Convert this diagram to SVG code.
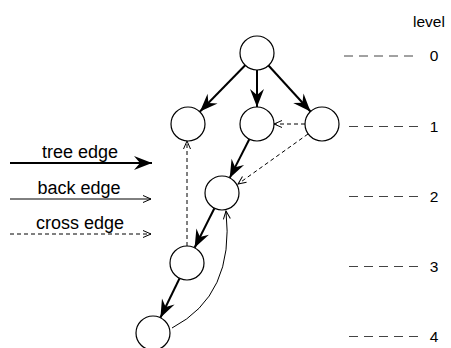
<svg xmlns="http://www.w3.org/2000/svg" width="451" height="348" viewBox="0 0 451 348">
  <defs>
    <!-- filled, notched head for tree edges -->
    <marker id="treeHead" markerUnits="userSpaceOnUse" viewBox="-20 -10 22 20" refX="0" refY="0" markerWidth="22" markerHeight="20" orient="auto" overflow="visible">
      <path d="M0,0 L-18,-7 L-12,0 L-18,7 Z" fill="#000"/>
    </marker>
    <!-- open V head for back and cross edges -->
    <marker id="openHead" markerUnits="userSpaceOnUse" viewBox="-10 -5 12 10" refX="0" refY="0" markerWidth="12" markerHeight="10" orient="auto" overflow="visible">
      <path d="M-8,-3.5 L0,0 L-8,3.5" fill="none" stroke="#000" stroke-width="1"/>
    </marker>
  </defs>
  <style>
    .node { fill: #fff; stroke: #000; stroke-width: 1.2; }
    .tree { fill: none; stroke: #000; stroke-width: 2; marker-end: url(#treeHead); }
    .back { fill: none; stroke: #000; stroke-width: 1; marker-end: url(#openHead); }
    .cross { fill: none; stroke: #000; stroke-width: 1; stroke-dasharray: 4 3; marker-end: url(#openHead); }
    .lvl { stroke: #444; stroke-width: 1; stroke-dasharray: 9 6; }
    .label { font-family: "Liberation Sans", Arial, sans-serif; font-size: 18px; fill: #000; text-anchor: middle; }
    .num { font-family: "Liberation Sans", Arial, sans-serif; font-size: 15.5px; fill: #000; text-anchor: middle; }
  </style>

  <!-- legend -->
  <g id="legend">
    <text class="label" x="80" y="158">tree edge</text>
    <line class="tree" x1="10" y1="163" x2="152" y2="163"/>
    <text class="label" x="79" y="194">back edge</text>
    <line class="back" x1="10" y1="199" x2="151" y2="199"/>
    <text class="label" x="80" y="229">cross edge</text>
    <line class="cross" x1="10" y1="234" x2="151" y2="234"/>
  </g>

  <!-- level scale -->
  <g id="levels">
    <text class="num" x="429" y="27">level</text>
    <line class="lvl" x1="344" y1="56" x2="413" y2="56"/>
    <text class="num" x="434" y="61">0</text>
    <line class="lvl" x1="349" y1="126.5" x2="418" y2="126.5"/>
    <text class="num" x="434" y="132">1</text>
    <line class="lvl" x1="349" y1="196.5" x2="418" y2="196.5"/>
    <text class="num" x="434" y="202">2</text>
    <line class="lvl" x1="349" y1="266.5" x2="418" y2="266.5"/>
    <text class="num" x="434" y="272">3</text>
    <line class="lvl" x1="349" y1="336.5" x2="418" y2="336.5"/>
    <text class="num" x="434" y="342">4</text>
  </g>

  <!-- connectors -->
  <g id="edges">
    <line class="tree" x1="245.2" y1="65.2" x2="200" y2="111.5"/>
    <line class="tree" x1="257" y1="70" x2="257" y2="107"/>
    <line class="tree" x1="268.5" y1="65.5" x2="310.5" y2="111.5"/>
    <line class="tree" x1="249.3" y1="139.2" x2="229.7" y2="177.9"/>
    <line class="tree" x1="214.4" y1="208.2" x2="194.6" y2="247.8"/>
    <line class="tree" x1="179.6" y1="278.3" x2="160.4" y2="317.7"/>
    <path class="back" d="M172,328 Q235,295 226,211"/>
    <line class="cross" x1="187" y1="246" x2="187" y2="141"/>
    <line class="cross" x1="305" y1="124" x2="274" y2="124"/>
    <line class="cross" x1="308" y1="134" x2="238" y2="184"/>
  </g>

  <!-- nodes -->
  <g id="n0"><circle class="node" cx="257" cy="53" r="17"/></g>
  <g id="n1a"><circle class="node" cx="188" cy="124" r="17"/></g>
  <g id="n1b"><circle class="node" cx="257" cy="124" r="17"/></g>
  <g id="n1c"><circle class="node" cx="322" cy="124" r="17"/></g>
  <g id="n2"><circle class="node" cx="222" cy="193" r="17"/></g>
  <g id="n3"><circle class="node" cx="187" cy="263" r="17"/></g>
  <g id="n4"><circle class="node" cx="153" cy="333" r="17"/></g>
</svg>
